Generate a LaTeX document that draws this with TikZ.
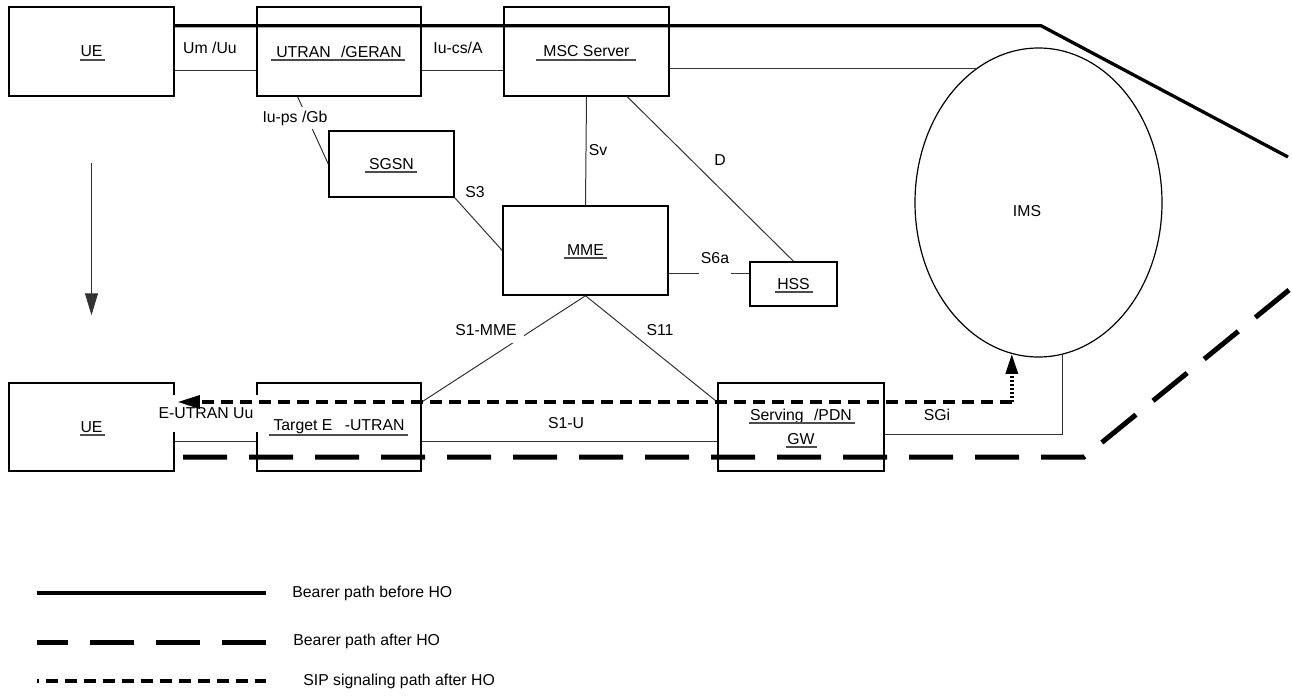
\documentclass[tikz,border=0pt]{standalone}
\usepackage{fontspec}
\setmainfont{Liberation Sans}
\usetikzlibrary{arrows.meta,calc,shapes.geometric}
\begin{document}
\begin{tikzpicture}[x=0.5pt,y=-0.5pt,
  every node/.style={font=\fontsize{7.9pt}{12pt}\selectfont},
  box/.style={draw,line width=0.75pt,inner sep=0pt,align=center},
  conn/.style={line width=0.5pt,draw=black!80},
  uline/.style={line width=0.55pt,draw=black!70},
  lbl/.style={inner sep=1pt},
  wlbl/.style={inner sep=2pt,fill=white},
  beforepath/.style={line width=1.65pt},
  afterpath/.style={line width=2.5pt,dash pattern=on 22pt off 11pt},
  sippath/.style={line width=1.6pt,dash pattern=on 6pt off 3.5pt},
  tip/.style={-{Triangle[length=11pt,width=6.5pt]}}
]
\useasboundingbox (0,0) rectangle (1292,696);

% boxes
\node[box,minimum width=82.5pt,minimum height=44.5pt] (ue1) at (91.5,51.5) {UE};
\node[box,minimum width=82pt,minimum height=44.5pt] (utran) at (339,51.5) {UTRAN\hspace{3pt} /GERAN};
\node[box,minimum width=82.5pt,minimum height=44.5pt] (msc) at (586.5,51.5) {MSC Server};
\node[box,minimum width=62.5pt,minimum height=33pt] (sgsn) at (391.5,164) {SGSN};
\node[box,minimum width=82.5pt,minimum height=44.5pt] (mme) at (585.5,250.5) {MME};
\node[box,minimum width=43.5pt,minimum height=22pt] (hss) at (793.5,284) {HSS};
\node[box,minimum width=82.5pt,minimum height=44pt] (ue2) at (91.5,427) {UE};
\node[box,minimum width=82pt,minimum height=44pt] (target) at (339,427) {Target E\hspace{4pt} -UTRAN};
\node[box,minimum width=83pt,minimum height=44pt] (gw) at (801,427) {Serving\hspace{3pt} /PDN\\GW};
\node[draw,ellipse,line width=0.6pt,inner sep=0pt,minimum width=123.5pt,minimum height=154.5pt] (ims) at (1038.5,202.5) {};
\node[lbl] (imstext) at (1027,211) {IMS};

% underlines
\draw[uline] (80,60) -- (105,60);
\draw[uline] (271,60) -- (405,60);
\draw[uline] (536,60) -- (636,60);
\draw[uline] (365,172) -- (417,172);
\draw[uline] (564,258) -- (607,258);
\draw[uline] (775,292) -- (813,292);
\draw[uline] (80,435) -- (105,435);
\draw[uline] (269,435) -- (408,435);
\draw[uline] (749,423) -- (855,423);
\draw[uline] (786,447) -- (817,447);

% helper coordinates
\coordinate (ytop) at (0,70);
\coordinate (ys6a) at (0,273);
\coordinate (ysip) at (0,402);
\coordinate (ysgi) at (0,434);
\coordinate (ybot) at (0,441);

% thin connectors
\draw[conn] (ue1.east |- ytop) -- (utran.west |- ytop);
\draw[conn] (utran.east |- ytop) -- (msc.west |- ytop);
\draw[conn] (msc.east |- ims.115.6) -- (ims.115.6);
\draw[conn] ($(utran.south west)!0.25!(utran.south east)$) -- (sgsn.west);
\draw[conn] (sgsn.south east) -- (mme.west);
\draw[conn] (msc.south) -- (mme.north);
\draw[conn] ($(msc.south west)!0.745!(msc.south east)$) -- (hss.north);
\draw[conn] (mme.east |- ys6a) -- (hss.west |- ys6a);
\draw[conn] (mme.south) -- (target.east |- ysip);
\draw[conn] (mme.south) -- (gw.west |- ysip);
\draw[conn] (ue2.east |- ybot) -- (target.west |- ybot);
\draw[conn] (target.east |- ybot) -- (gw.west |- ybot);
\draw[conn] (gw.east |- ysgi) -| (ims.-81.6);
\draw[conn,tip] (ue1.south) ++(0,66) coordinate (arrA) (arrA) -- (ue2.north) [shorten >=33.5pt];

% labels
\node[lbl] (lumuu) at (210,48) {Um /Uu};
\node[lbl] (liucs) at (458,48) {Iu-cs/A};
\node[wlbl] (liups) at (295,118) {Iu-ps /Gb};
\node[lbl] (ls3) at (475,192) {S3};
\node[lbl] (lsv) at (598,150) {Sv};
\node[lbl] (ld) at (720,160) {D};
\node[fill=white,inner xsep=1pt,inner ysep=5pt] (ls6a) at (715,258) {S6a};
\node[fill=white,inner sep=3.5pt] (ls1mme) at (486,330) {S1-MME};
\node[lbl] (ls11) at (660,330) {S11};
\node[fill=white,inner xsep=3pt,inner ysep=0pt,minimum height=18.5pt] (leutran) at (206,413) {E-UTRAN Uu};
\node[lbl] (ls1u) at (566,423) {S1-U};
\node[lbl] (lsgi) at (937,415) {SGi};

% bearer path before HO
\coordinate (tl1) at (1041,25.7);
\coordinate (tl2) at (1288,157);
\draw[beforepath] (ue1.east |- tl1) -- (tl1) -- (tl2);

% bearer path after HO
\coordinate (bd0) at (183,457);
\coordinate (bd1) at (1084,457);
\coordinate (bd2) at (1289,290);
\draw[afterpath] (bd0) -- (bd1) -- (bd2);

% SIP signalling path after HO
\coordinate (sipc) at (ims.-100.4 |- ysip);
\draw[sippath,tip,shorten >=1.5pt] (sipc) -- (ue2.east |- ysip);
\draw[line width=1.7pt,dash pattern=on 1.2pt off 0.8pt,-{Triangle[length=10pt,width=6pt]}] (sipc) -- (ims.-100.4);

% legend
\coordinate (la1) at (37,593); \coordinate (lb1) at (266,593);
\coordinate (la2) at (37,642); \coordinate (lb2) at (266,642);
\coordinate (la3) at (37,681); \coordinate (lb3) at (266,681);
\draw[beforepath] (la1) -- (lb1);
\draw[afterpath,dash phase=6.5pt] (la2) -- (lb2);
\draw[sippath,dash phase=5.2pt] (la3) -- (lb3);
\node[anchor=west,inner sep=0pt] (t1) at (292,593) {Bearer path before HO};
\node[anchor=west,inner sep=0pt] (t2) at (293,641) {Bearer path after HO};
\node[anchor=west,inner sep=0pt] (t3) at (303,681) {SIP signaling path after HO};
\end{tikzpicture}
\end{document}
